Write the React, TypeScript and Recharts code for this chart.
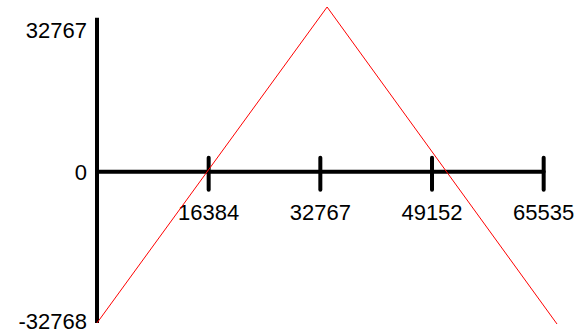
import { LineChart, Line, XAxis, YAxis, ReferenceLine } from "recharts";

// red trace (x, y in sample units)
const waveX = [0, 33760, 67490];
const waveY = [-32768, 35740, -32990];

const xTicks = [16384, 32767, 49152, 65535];
const yTicks = [-32768, 0, 32767];
const xAxisEnd = 65535;
const yAxisTop = 33400;

const data = waveX.map((x, i) => ({ x, y: waveY[i] }));

const FONT = "'Liberation Sans', Arial, sans-serif";

function TickMark(props: any) {
    const { x1, y1, label } = props;
    return (
        <g>
            <line x1={x1} x2={x1} y1={y1 - 14} y2={y1 + 18} stroke="#000" strokeWidth={4} strokeLinecap="round" />
            <text x={x1} y={y1 + 48} textAnchor="middle" fontSize={22} fontFamily={FONT} fill="#000">
                {label}
            </text>
        </g>
    );
}

function YTick(props: any) {
    const { x, y, payload } = props;
    // top label sits a little below the top of the axis line, bottom one a bit above the edge
    let shift = 0;
    if (payload.value === yTicks[yTicks.length - 1]) shift = 9;
    if (payload.value === yTicks[0]) shift = -2;
    return (
        <text x={x} y={y + shift} dy="0.355em" textAnchor="end" fontSize={22} fontFamily={FONT} fill="#000">
            {payload.value}
        </text>
    );
}

export default function App() {
    return (
        <div style={{ position: "absolute", left: 0, top: 0, background: "#fff" }}>
            <LineChart width={583} height={333} data={data} margin={{ top: 7, right: 26, bottom: 9, left: 0 }}>
                <XAxis type="number" dataKey="x" domain={[0, Math.max(...waveX)]} hide />
                <YAxis
                    type="number"
                    domain={[Math.min(...waveY), Math.max(...waveY)]}
                    ticks={yTicks}
                    width={97}
                    axisLine={false}
                    tickLine={false}
                    tickSize={0}
                    tickMargin={10}
                    tick={<YTick />}
                />
                <ReferenceLine
                    segment={[{ x: 0, y: yTicks[0] }, { x: 0, y: yAxisTop }]}
                    stroke="#000"
                    strokeWidth={4}
                />
                <ReferenceLine
                    segment={[{ x: 0, y: 0 }, { x: xAxisEnd, y: 0 }]}
                    stroke="#000"
                    strokeWidth={4}
                    strokeLinecap="round"
                />
                {xTicks.map((t) => (
                    <ReferenceLine
                        key={t}
                        segment={[{ x: t, y: 0 }, { x: t, y: 0 }]}
                        shape={(p: any) => <TickMark {...p} label={t} />}
                    />
                ))}
                <Line
                    type="linear"
                    dataKey="y"
                    stroke="#ff0000"
                    strokeWidth={1}
                    dot={false}
                    isAnimationActive={false}
                />
            </LineChart>
        </div>
    );
}
